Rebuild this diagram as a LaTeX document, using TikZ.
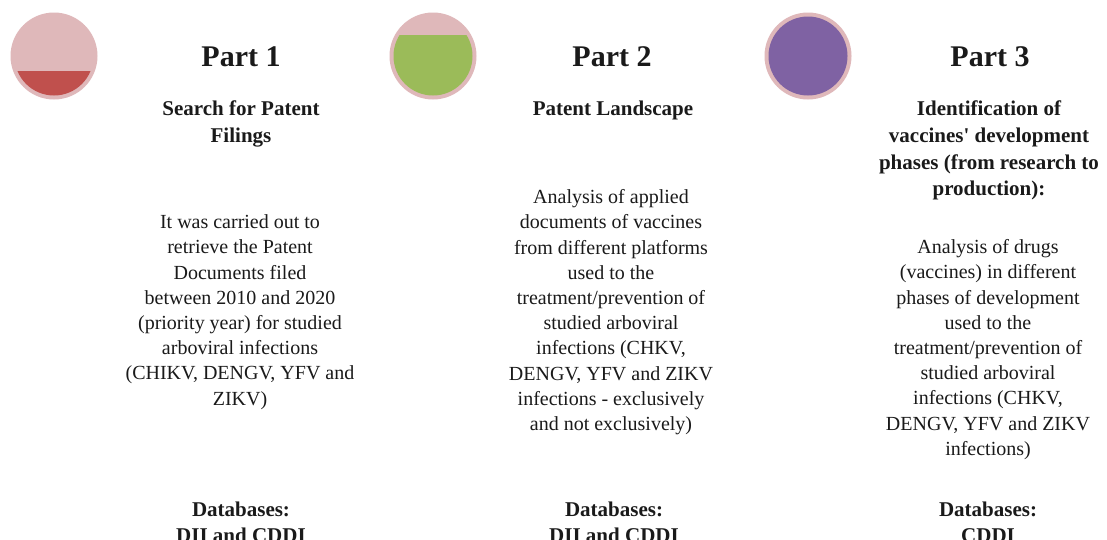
\documentclass[tikz,border=0pt]{standalone}
\usepackage{fontspec}
\setmainfont{Liberation Serif}[Ligatures=TeXOff]
\definecolor{ring}{HTML}{DFB8BA}
\definecolor{cred}{HTML}{C0504D}
\definecolor{cgreen}{HTML}{9BBB59}
\definecolor{cpurple}{HTML}{7F62A3}
\definecolor{ink}{HTML}{1A1A1A}
\begin{document}
\begin{tikzpicture}[x=1pt,y=-1pt,
  parttitle/.style={anchor=base, inner sep=0, font=\fontsize{30}{36}\selectfont\bfseries, text=ink},
  subtitle/.style={anchor=north, inner sep=0, align=center, font=\fontsize{21}{26.7}\selectfont\bfseries, text=ink},
  body/.style={anchor=north, inner sep=0, align=center, font=\fontsize{20}{25.2}\selectfont, text=ink},
  ringdisc/.style={fill=ring}]
\useasboundingbox (0,0) rectangle (1107,539);
\clip (0,0) rectangle (1107,539);
\fill[white] (0,0) rectangle (1107,539);

% circle 1
\fill[ringdisc] (54,56) circle (43.5pt);
\begin{scope}
  \clip (54,56) circle (39.5pt);
  \fill[cred] (0,71) rectangle (110,100);
\end{scope}
% circle 2
\fill[ringdisc] (433,56) circle (43.5pt);
\begin{scope}
  \clip (433,56) circle (39.5pt);
  \fill[cgreen] (380,35) rectangle (490,100);
\end{scope}
% circle 3
\fill[ringdisc] (808,56) circle (43.5pt);
\fill[cpurple] (808,56) circle (39.5pt);

% titles
\node[parttitle] (p1) at (241,66) {Part 1};
\node[parttitle] (p2) at (612,66) {Part 2};
\node[parttitle] (p3) at (990,66) {Part 3};

% subtitles
\node[subtitle] (s1) at (241,99.5) {\rule{0pt}{16pt}Search for Patent\\Filings};
\node[subtitle] (s2) at (613,99.5) {\rule{0pt}{16pt}Patent Landscape};
\node[subtitle] (s3) at (989,99.5) {\rule{0pt}{16pt}Identification of\\vaccines' development\\phases (from research to\\production):};

% bodies
\node[body] (b1) at (240,212.5) {\rule{0pt}{16pt}It was carried out to\\retrieve the Patent\\Documents filed\\between 2010 and 2020\\(priority year) for studied\\arboviral infections\\(CHIKV, DENGV, YFV and\\ZIKV)};
\node[body] (b2) at (611,187.5) {\rule{0pt}{16pt}Analysis of applied\\documents of vaccines\\from different platforms\\used to the\\treatment/prevention of\\studied arboviral\\infections (CHKV,\\DENGV, YFV and ZIKV\\infections - exclusively\\and not exclusively)};
\node[body] (b3) at (988,237.5) {\rule{0pt}{16pt}Analysis of drugs\\(vaccines) in different\\phases of development\\used to the\\treatment/prevention of\\studied arboviral\\infections (CHKV,\\DENGV, YFV and ZIKV\\infections)};

% databases
\node[subtitle] (d1) at (241,500) {\rule{0pt}{16pt}Databases:\\DII and CDDI};
\node[subtitle] (d2) at (614,500) {\rule{0pt}{16pt}Databases:\\DII and CDDI};
\node[subtitle] (d3) at (988,500) {\rule{0pt}{16pt}Databases:\\CDDI};
\end{tikzpicture}
\end{document}
